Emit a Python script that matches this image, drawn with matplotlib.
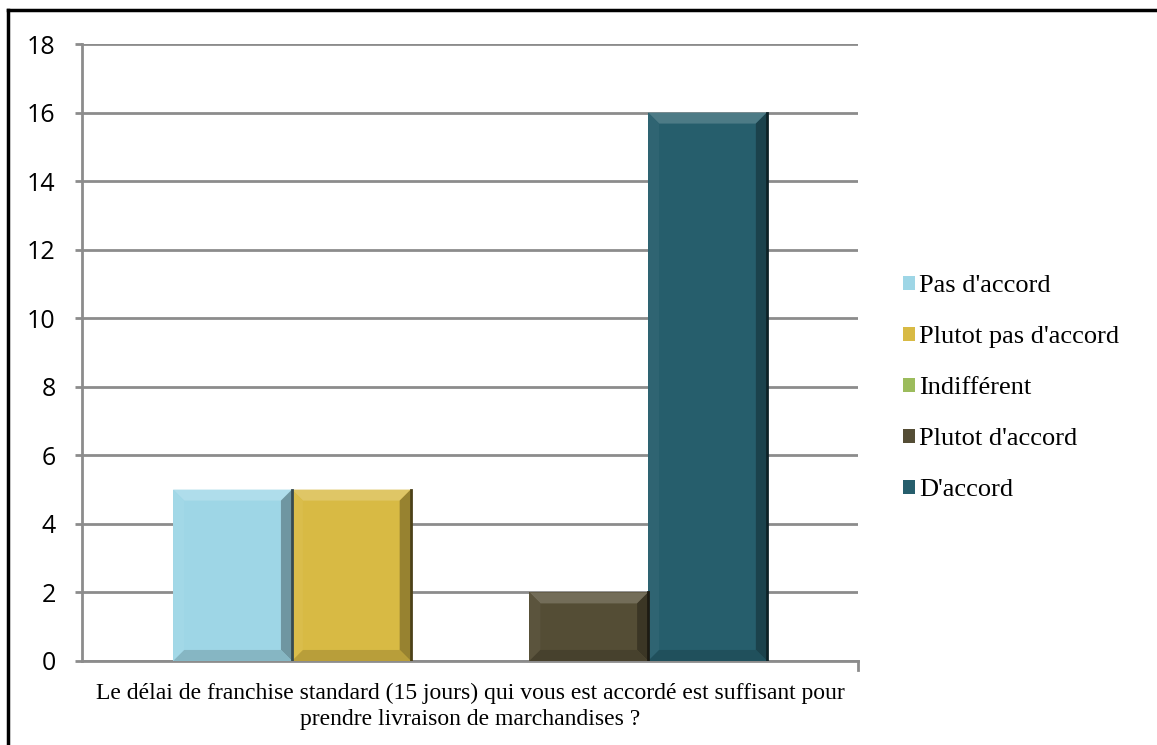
import numpy as np
import matplotlib.pyplot as plt
from matplotlib.patches import Polygon
from matplotlib.lines import Line2D

# survey answers for a single question
question = "Le délai de franchise standard (15 jours) qui vous est accordé est suffisant pour\nprendre livraison de marchandises ?"
answers = ["Pas d'accord", "Plutot pas d'accord", "Indifférent", "Plutot d'accord", "D'accord"]
counts = [5, 5, 0, 2, 16]
colors = ["#9ed6e6", "#d8ba44", "#9cbc5c", "#544d35", "#265e6c"]
yticks = [0, 2, 4, 6, 8, 10, 12, 14, 16, 18]

fig = plt.figure(figsize=(11.57, 7.45), dpi=100)
ax = fig.add_axes([0.0709, 0.1128, 0.6707, 0.8281])

width = 0.153
offsets = (np.arange(len(answers)) - 2) * width
bars = []
for off, c, col, lab in zip(offsets, counts, colors, answers):
    b = ax.bar(off, c, width=width, color=col, label=lab, zorder=3,
               edgecolor="none")
    bars.append(b[0])

ax.set_xlim(-0.5, 0.5)
ax.set_ylim(0, 18)
ax.set_yticks(yticks)
ax.set_xticks([])
ax.grid(axis="y", color="#8c8c8c", linewidth=2, zorder=0)
for s in ["top", "right"]:
    ax.spines[s].set_visible(False)
for s in ["left", "bottom"]:
    ax.spines[s].set_color("#8c8c8c")
    ax.spines[s].set_linewidth(2)
ax.tick_params(axis="y", length=5, width=2, color="#8c8c8c", pad=14,
               labelsize=18)
for t in ax.get_yticklabels():
    t.set_fontfamily("Open Sans")

# small category tick at the right end of the axis
ax.plot([0.5, 0.5], [0, -0.25], color="#8c8c8c", lw=2, clip_on=False,
        transform=ax.transData)


def shade(col, f):
    rgb = np.array(plt.matplotlib.colors.to_rgb(col))
    if f > 1:
        return tuple(rgb + (1 - rgb) * (f - 1))
    return tuple(rgb * f)


# bevelled edges on each bar
fig.canvas.draw()
px = ax.transData.inverted()
for b, col in zip(bars, colors):
    if b.get_height() <= 0:
        continue
    x0, y0 = b.get_x(), b.get_y()
    x1, y1 = x0 + b.get_width(), y0 + b.get_height()
    p0 = ax.transData.transform((x0, y0))
    p1 = ax.transData.transform((x1, y1))
    d = 11
    q0 = px.transform((p0[0] + d, p0[1] + d))
    q1 = px.transform((p1[0] - d, p1[1] - d))
    ix0, iy0 = q0
    ix1, iy1 = q1
    faces = [
        ([(x0, y1), (x1, y1), (ix1, iy1), (ix0, iy1)], 1.18),
        ([(x0, y0), (x0, y1), (ix0, iy1), (ix0, iy0)], 1.04),
        ([(x1, y0), (x1, y1), (ix1, iy1), (ix1, iy0)], 0.7),
        ([(x0, y0), (x1, y0), (ix1, iy0), (ix0, iy0)], 0.85),
    ]
    for pts, f in faces:
        ax.add_patch(Polygon(pts, closed=True, color=shade(col, f),
                             lw=0, zorder=4))
    ax.plot([x1, x1], [y0, y1], color=shade(col, 0.35), lw=2, zorder=5)

ax.text(0.5, -0.035, question, transform=ax.transAxes, ha="center",
        va="top", fontsize=17, family="Liberation Serif", linespacing=1.3)

leg = fig.legend(loc="center left", bbox_to_anchor=(0.76, 0.479),
                 frameon=False, prop={"family": "Liberation Serif", "size": 19},
                 handlelength=0.45, handleheight=0.45, handletextpad=0.15,
                 labelspacing=1.1)

# frame lines along the top and left edges
fig.add_artist(Line2D([0.007, 1], [0.987, 0.987], color="black", lw=2.5,
                      transform=fig.transFigure))
fig.add_artist(Line2D([0.007, 0.007], [0, 0.987], color="black", lw=2.5,
                      transform=fig.transFigure))

fig.savefig("out.png", dpi=100)
